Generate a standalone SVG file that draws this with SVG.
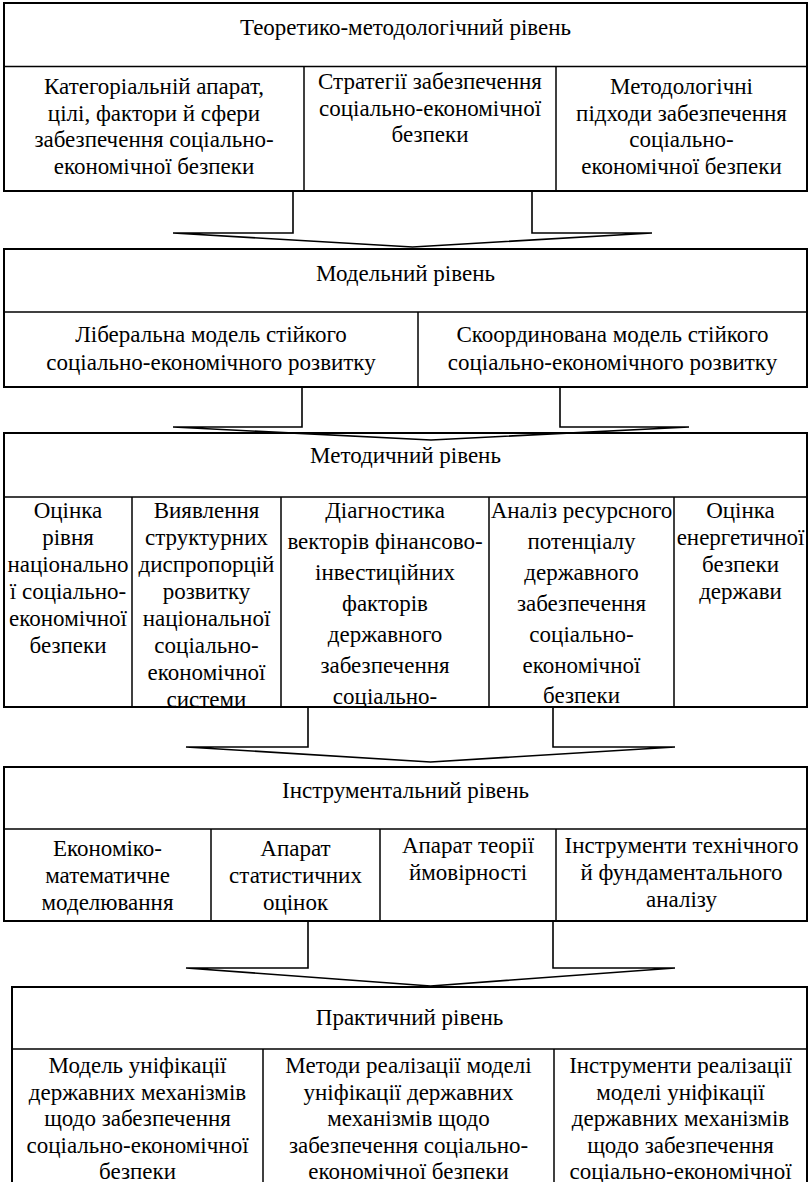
<svg xmlns="http://www.w3.org/2000/svg" width="809" height="1182" viewBox="0 0 809 1182">
<style>
  text { font-family: "Liberation Serif", "Times New Roman", serif; font-size: 23px; fill: #000; text-anchor: middle; }
  .frame { fill: none; stroke: #000; stroke-width: 2; }
  .div { fill: none; stroke: #000; stroke-width: 1.5; }
  .arrow { fill: none; stroke: #000; stroke-width: 1.6; stroke-linejoin: miter; }
</style>
<defs>
  <clipPath id="clip-methodical"><rect x="4" y="497" width="803" height="210"/></clipPath>
</defs>
<rect x="0" y="0" width="809" height="1182" fill="#fff"/>

<g id="level-theoretical">
  <rect class="frame" x="4" y="3" width="803" height="188"/>
  <line class="div" x1="4" y1="66.5" x2="807" y2="66.5"/>
  <line class="div" x1="304" y1="66.5" x2="304" y2="191"/>
  <line class="div" x1="556" y1="66.5" x2="556" y2="191"/>
  <text x="405.5" y="35">Теоретико-методологічний рівень</text>
  <g id="t-cell1">
    <text x="154" y="94">Категоріальній апарат,</text>
    <text x="154" y="120.5">цілі, фактори й сфери</text>
    <text x="154" y="147">забезпечення соціально-</text>
    <text x="154" y="173.5">економічної безпеки</text>
  </g>
  <g id="t-cell2">
    <text x="430" y="89">Стратегії забезпечення</text>
    <text x="430" y="115.5">соціально-економічної</text>
    <text x="430" y="142">безпеки</text>
  </g>
  <g id="t-cell3">
    <text x="681.5" y="94">Методологічні</text>
    <text x="681.5" y="120.5">підходи забезпечення</text>
    <text x="681.5" y="147">соціально-</text>
    <text x="681.5" y="173.5">економічної безпеки</text>
  </g>
</g>

<g id="level-model">
  <rect class="frame" x="4" y="249" width="803" height="138"/>
  <line class="div" x1="4" y1="312" x2="807" y2="312"/>
  <line class="div" x1="418" y1="312" x2="418" y2="387"/>
  <text x="405.5" y="281">Модельний рівень</text>
  <g id="m-cell1">
    <text x="211" y="342">Ліберальна модель стійкого</text>
    <text x="211" y="370">соціально-економічного розвитку</text>
  </g>
  <g id="m-cell2">
    <text x="612.5" y="342">Скоординована модель стійкого</text>
    <text x="612.5" y="370">соціально-економічного розвитку</text>
  </g>
</g>

<g id="level-methodical">
  <rect class="frame" x="4" y="433" width="803" height="274"/>
  <line class="div" x1="4" y1="497" x2="807" y2="497"/>
  <line class="div" x1="132" y1="497" x2="132" y2="707"/>
  <line class="div" x1="281" y1="497" x2="281" y2="707"/>
  <line class="div" x1="489" y1="497" x2="489" y2="707"/>
  <line class="div" x1="674" y1="497" x2="674" y2="707"/>
  <text x="405.5" y="463">Методичний рівень</text>
  <g clip-path="url(#clip-methodical)">
    <g id="d-cell1">
      <text x="68" y="518">Оцінка</text>
      <text x="68" y="545">рівня</text>
      <text x="68" y="572">національно</text>
      <text x="68" y="599">ї соціально-</text>
      <text x="68" y="626">економічної</text>
      <text x="68" y="653">безпеки</text>
    </g>
    <g id="d-cell2">
      <text x="206.5" y="518">Виявлення</text>
      <text x="206.5" y="545">структурних</text>
      <text x="206.5" y="572">диспропорцій</text>
      <text x="206.5" y="599">розвитку</text>
      <text x="206.5" y="626">національної</text>
      <text x="206.5" y="653">соціально-</text>
      <text x="206.5" y="680">економічної</text>
      <text x="206.5" y="707">системи</text>
    </g>
    <g id="d-cell3">
      <text x="385" y="518">Діагностика</text>
      <text x="385" y="549">векторів фінансово-</text>
      <text x="385" y="580">інвестиційних</text>
      <text x="385" y="611">факторів</text>
      <text x="385" y="642">державного</text>
      <text x="385" y="673">забезпечення</text>
      <text x="385" y="704">соціально-</text>
    </g>
    <g id="d-cell4">
      <text x="581.5" y="518">Аналіз ресурсного</text>
      <text x="581.5" y="549">потенціалу</text>
      <text x="581.5" y="580">державного</text>
      <text x="581.5" y="611">забезпечення</text>
      <text x="581.5" y="642">соціально-</text>
      <text x="581.5" y="673">економічної</text>
      <text x="581.5" y="703">безпеки</text>
    </g>
    <g id="d-cell5">
      <text x="740.5" y="518">Оцінка</text>
      <text x="740.5" y="545">енергетичної</text>
      <text x="740.5" y="572">безпеки</text>
      <text x="740.5" y="599">держави</text>
    </g>
  </g>
</g>

<g id="level-instrumental">
  <rect class="frame" x="4" y="767" width="803" height="154"/>
  <line class="div" x1="4" y1="829" x2="807" y2="829"/>
  <line class="div" x1="211" y1="829" x2="211" y2="921"/>
  <line class="div" x1="380" y1="829" x2="380" y2="921"/>
  <line class="div" x1="556" y1="829" x2="556" y2="921"/>
  <text x="405.5" y="798">Інструментальний рівень</text>
  <g id="i-cell1">
    <text x="107.5" y="856">Економіко-</text>
    <text x="107.5" y="883">математичне</text>
    <text x="107.5" y="910">моделювання</text>
  </g>
  <g id="i-cell2">
    <text x="295.5" y="856">Апарат</text>
    <text x="295.5" y="883">статистичних</text>
    <text x="295.5" y="910">оцінок</text>
  </g>
  <g id="i-cell3">
    <text x="468" y="853">Апарат теорії</text>
    <text x="468" y="880">ймовірності</text>
  </g>
  <g id="i-cell4">
    <text x="681.5" y="853">Інструменти технічного</text>
    <text x="681.5" y="880">й фундаментального</text>
    <text x="681.5" y="907">аналізу</text>
  </g>
</g>

<g id="level-practical">
  <rect class="frame" x="12" y="987" width="795" height="220"/>
  <line class="div" x1="12" y1="1049" x2="807" y2="1049"/>
  <line class="div" x1="263" y1="1049" x2="263" y2="1190"/>
  <line class="div" x1="554" y1="1049" x2="554" y2="1190"/>
  <text x="409.5" y="1025">Практичний рівень</text>
  <g id="p-cell1">
    <text x="137.5" y="1073">Модель уніфікації</text>
    <text x="137.5" y="1099.5">державних механізмів</text>
    <text x="137.5" y="1126">щодо забезпечення</text>
    <text x="137.5" y="1152.5">соціально-економічної</text>
    <text x="137.5" y="1179">безпеки</text>
  </g>
  <g id="p-cell2">
    <text x="408.5" y="1073">Методи реалізації моделі</text>
    <text x="408.5" y="1099.5">уніфікації державних</text>
    <text x="408.5" y="1126">механізмів щодо</text>
    <text x="408.5" y="1152.5">забезпечення соціально-</text>
    <text x="408.5" y="1179">економічної безпеки</text>
  </g>
  <g id="p-cell3">
    <text x="680.5" y="1073">Інструменти реалізації</text>
    <text x="680.5" y="1099.5">моделі уніфікації</text>
    <text x="680.5" y="1126">державних механізмів</text>
    <text x="680.5" y="1152.5">щодо забезпечення</text>
    <text x="680.5" y="1179">соціально-економічної</text>
  </g>
</g>

<g id="connectors">
  <polyline class="arrow" points="293,191 293,233 173,233 412.5,247 652,233 532,233 532,191"/>
  <polyline class="arrow" points="302,387 302,427 173,427 431,440 689,427 560,427 560,387"/>
  <polyline class="arrow" points="308,707 308,747 186,747 430.5,762 675,747 553,747 553,707"/>
  <polyline class="arrow" points="308,921 308,968 186,968 430.5,986 675,968 553,968 553,921"/>
</g>
</svg>
